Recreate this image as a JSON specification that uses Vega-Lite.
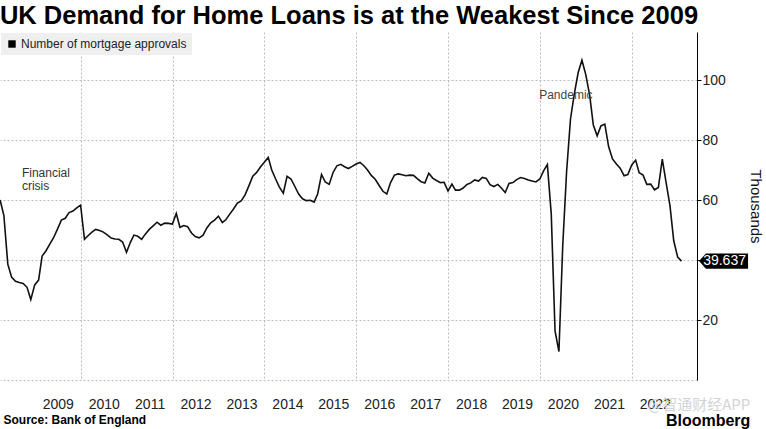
{
  "$schema": "https://vega.github.io/schema/vega-lite/v6.json",
  "background": "#ffffff",
  "padding": {"left": -4, "top": 3, "right": 0, "bottom": 0},
  "title": {
    "text": "UK Demand for Home Loans is at the Weakest Since 2009",
    "anchor": "start",
    "frame": "bounds",
    "font": "Liberation Sans",
    "fontSize": 25.5,
    "fontWeight": "bold",
    "color": "#000000",
    "offset": 3,
    "dx": 3
  },
  "datasets": {
    "approvals": [
      {"date": "2008-03-31", "value": 60.0},
      {"date": "2008-04-30", "value": 54.8},
      {"date": "2008-05-31", "value": 38.6},
      {"date": "2008-06-30", "value": 34.3},
      {"date": "2008-07-31", "value": 32.9},
      {"date": "2008-08-31", "value": 32.5},
      {"date": "2008-09-30", "value": 32.2},
      {"date": "2008-10-31", "value": 30.9},
      {"date": "2008-11-30", "value": 26.8},
      {"date": "2008-12-31", "value": 31.7},
      {"date": "2009-01-31", "value": 33.3},
      {"date": "2009-02-28", "value": 41.3},
      {"date": "2009-03-31", "value": 43.1},
      {"date": "2009-04-30", "value": 45.3},
      {"date": "2009-05-31", "value": 47.5},
      {"date": "2009-06-30", "value": 50.3},
      {"date": "2009-07-31", "value": 53.3},
      {"date": "2009-08-31", "value": 53.9},
      {"date": "2009-09-30", "value": 55.8},
      {"date": "2009-10-31", "value": 56.3},
      {"date": "2009-11-30", "value": 57.4},
      {"date": "2009-12-31", "value": 58.3},
      {"date": "2010-01-31", "value": 46.9},
      {"date": "2010-02-28", "value": 48.1},
      {"date": "2010-03-31", "value": 49.3},
      {"date": "2010-04-30", "value": 50.2},
      {"date": "2010-05-31", "value": 49.8},
      {"date": "2010-06-30", "value": 49.3},
      {"date": "2010-07-31", "value": 48.4},
      {"date": "2010-08-31", "value": 47.3},
      {"date": "2010-09-30", "value": 47.0},
      {"date": "2010-10-31", "value": 46.9},
      {"date": "2010-11-30", "value": 46.0},
      {"date": "2010-12-31", "value": 42.6},
      {"date": "2011-01-31", "value": 45.9},
      {"date": "2011-02-28", "value": 48.3},
      {"date": "2011-03-31", "value": 47.9},
      {"date": "2011-04-30", "value": 46.9},
      {"date": "2011-05-31", "value": 48.7},
      {"date": "2011-06-30", "value": 50.2},
      {"date": "2011-07-31", "value": 51.4},
      {"date": "2011-08-31", "value": 52.6},
      {"date": "2011-09-30", "value": 51.6},
      {"date": "2011-10-31", "value": 52.3},
      {"date": "2011-11-30", "value": 52.2},
      {"date": "2011-12-31", "value": 52.0},
      {"date": "2012-01-31", "value": 55.5},
      {"date": "2012-02-29", "value": 50.9},
      {"date": "2012-03-31", "value": 51.5},
      {"date": "2012-04-30", "value": 51.1},
      {"date": "2012-05-31", "value": 49.0},
      {"date": "2012-06-30", "value": 47.8},
      {"date": "2012-07-31", "value": 47.4},
      {"date": "2012-08-31", "value": 48.3},
      {"date": "2012-09-30", "value": 50.7},
      {"date": "2012-10-31", "value": 52.4},
      {"date": "2012-11-30", "value": 53.3},
      {"date": "2012-12-31", "value": 54.6},
      {"date": "2013-01-31", "value": 52.5},
      {"date": "2013-02-28", "value": 53.4},
      {"date": "2013-03-31", "value": 55.3},
      {"date": "2013-04-30", "value": 57.0},
      {"date": "2013-05-31", "value": 59.0},
      {"date": "2013-06-30", "value": 59.7},
      {"date": "2013-07-31", "value": 61.7},
      {"date": "2013-08-31", "value": 64.8},
      {"date": "2013-09-30", "value": 67.9},
      {"date": "2013-10-31", "value": 69.2},
      {"date": "2013-11-30", "value": 71.0},
      {"date": "2013-12-31", "value": 72.6},
      {"date": "2014-01-31", "value": 74.2},
      {"date": "2014-02-28", "value": 70.0},
      {"date": "2014-03-31", "value": 67.0},
      {"date": "2014-04-30", "value": 64.3},
      {"date": "2014-05-31", "value": 62.3},
      {"date": "2014-06-30", "value": 67.9},
      {"date": "2014-07-31", "value": 67.0},
      {"date": "2014-08-31", "value": 64.5},
      {"date": "2014-09-30", "value": 62.0},
      {"date": "2014-10-31", "value": 60.4},
      {"date": "2014-11-30", "value": 59.8},
      {"date": "2014-12-31", "value": 59.9},
      {"date": "2015-01-31", "value": 59.3},
      {"date": "2015-02-28", "value": 62.0},
      {"date": "2015-03-31", "value": 68.5},
      {"date": "2015-04-30", "value": 66.0},
      {"date": "2015-05-31", "value": 65.2},
      {"date": "2015-06-30", "value": 69.1},
      {"date": "2015-07-31", "value": 71.4},
      {"date": "2015-08-31", "value": 71.9},
      {"date": "2015-09-30", "value": 71.1},
      {"date": "2015-10-31", "value": 70.5},
      {"date": "2015-11-30", "value": 71.2},
      {"date": "2015-12-31", "value": 72.0},
      {"date": "2016-01-31", "value": 72.5},
      {"date": "2016-02-29", "value": 71.5},
      {"date": "2016-03-31", "value": 70.0},
      {"date": "2016-04-30", "value": 68.2},
      {"date": "2016-05-31", "value": 66.9},
      {"date": "2016-06-30", "value": 64.9},
      {"date": "2016-07-31", "value": 62.9},
      {"date": "2016-08-31", "value": 62.0},
      {"date": "2016-09-30", "value": 65.8},
      {"date": "2016-10-31", "value": 68.3},
      {"date": "2016-11-30", "value": 68.7},
      {"date": "2016-12-31", "value": 68.4},
      {"date": "2017-01-31", "value": 68.1},
      {"date": "2017-02-28", "value": 68.3},
      {"date": "2017-03-31", "value": 68.2},
      {"date": "2017-04-30", "value": 67.1},
      {"date": "2017-05-31", "value": 66.1},
      {"date": "2017-06-30", "value": 65.7},
      {"date": "2017-07-31", "value": 68.9},
      {"date": "2017-08-31", "value": 67.3},
      {"date": "2017-09-30", "value": 66.5},
      {"date": "2017-10-31", "value": 65.8},
      {"date": "2017-11-30", "value": 65.9},
      {"date": "2017-12-31", "value": 63.0},
      {"date": "2018-01-31", "value": 65.3},
      {"date": "2018-02-28", "value": 63.3},
      {"date": "2018-03-31", "value": 63.3},
      {"date": "2018-04-30", "value": 64.0},
      {"date": "2018-05-31", "value": 65.2},
      {"date": "2018-06-30", "value": 65.7},
      {"date": "2018-07-31", "value": 66.7},
      {"date": "2018-08-31", "value": 66.3},
      {"date": "2018-09-30", "value": 67.5},
      {"date": "2018-10-31", "value": 67.2},
      {"date": "2018-11-30", "value": 65.1},
      {"date": "2018-12-31", "value": 64.5},
      {"date": "2019-01-31", "value": 65.2},
      {"date": "2019-02-28", "value": 64.0},
      {"date": "2019-03-31", "value": 62.5},
      {"date": "2019-04-30", "value": 65.5},
      {"date": "2019-05-31", "value": 65.8},
      {"date": "2019-06-30", "value": 66.8},
      {"date": "2019-07-31", "value": 67.5},
      {"date": "2019-08-31", "value": 67.2},
      {"date": "2019-09-30", "value": 66.7},
      {"date": "2019-10-31", "value": 66.3},
      {"date": "2019-11-30", "value": 66.0},
      {"date": "2019-12-31", "value": 67.0},
      {"date": "2020-01-31", "value": 69.8},
      {"date": "2020-02-29", "value": 71.8},
      {"date": "2020-03-31", "value": 55.3},
      {"date": "2020-04-30", "value": 16.4},
      {"date": "2020-05-31", "value": 9.5},
      {"date": "2020-06-30", "value": 44.5},
      {"date": "2020-07-31", "value": 69.5},
      {"date": "2020-08-31", "value": 87.0},
      {"date": "2020-09-30", "value": 95.3},
      {"date": "2020-10-31", "value": 102.5},
      {"date": "2020-11-30", "value": 106.6},
      {"date": "2020-12-31", "value": 101.7},
      {"date": "2021-01-31", "value": 94.8},
      {"date": "2021-02-28", "value": 85.1},
      {"date": "2021-03-31", "value": 81.4},
      {"date": "2021-04-30", "value": 84.7},
      {"date": "2021-05-31", "value": 85.3},
      {"date": "2021-06-30", "value": 77.8},
      {"date": "2021-07-31", "value": 73.7},
      {"date": "2021-08-31", "value": 72.0},
      {"date": "2021-09-30", "value": 70.6},
      {"date": "2021-10-31", "value": 68.1},
      {"date": "2021-11-30", "value": 68.5},
      {"date": "2021-12-31", "value": 71.7},
      {"date": "2022-01-31", "value": 73.3},
      {"date": "2022-02-28", "value": 69.1},
      {"date": "2022-03-31", "value": 68.3},
      {"date": "2022-04-30", "value": 65.2},
      {"date": "2022-05-31", "value": 65.3},
      {"date": "2022-06-30", "value": 63.4},
      {"date": "2022-07-31", "value": 64.2},
      {"date": "2022-08-31", "value": 73.6},
      {"date": "2022-09-30", "value": 65.9},
      {"date": "2022-10-31", "value": 58.1},
      {"date": "2022-11-30", "value": 46.4},
      {"date": "2022-12-31", "value": 41.0},
      {"date": "2023-01-31", "value": 39.637}
    ],
    "latest": [
      {"date": "2023-01-31", "value": 39.637}
    ]
  },
  "vconcat": [
    {
      "width": 697,
      "height": 348,
      "title": {
        "text": "@智通财经APP",
        "subtitle": "Bloomberg",
        "orient": "bottom",
        "anchor": "end",
        "frame": "bounds",
        "font": "Noto Sans CJK SC",
        "fontSize": 15,
        "fontWeight": "normal",
        "color": "#d4d4d4",
        "subtitleFont": "Liberation Sans",
        "subtitleFontSize": 16,
        "subtitleFontWeight": "bold",
        "subtitleColor": "#000000",
        "subtitlePadding": 0,
        "offset": -27,
        "dx": -12
      },
      "layer": [
        {
          "data": {"name": "approvals"},
          "mark": {"type": "line", "strokeWidth": 1.6, "interpolate": "linear"},
          "encoding": {
            "x": {
              "field": "date",
              "type": "temporal",
              "scale": {
                "domain": [
                  {"year": 2008, "month": 3, "date": 30, "utc": true},
                  {"year": 2023, "month": 6, "date": 3, "utc": true}
                ]
              },
              "axis": {
                "values": [
                  {"year": 2009, "month": 1, "date": 1, "utc": true},
                  {"year": 2010, "month": 1, "date": 1, "utc": true},
                  {"year": 2011, "month": 1, "date": 1, "utc": true},
                  {"year": 2012, "month": 1, "date": 1, "utc": true},
                  {"year": 2013, "month": 1, "date": 1, "utc": true},
                  {"year": 2014, "month": 1, "date": 1, "utc": true},
                  {"year": 2015, "month": 1, "date": 1, "utc": true},
                  {"year": 2016, "month": 1, "date": 1, "utc": true},
                  {"year": 2017, "month": 1, "date": 1, "utc": true},
                  {"year": 2018, "month": 1, "date": 1, "utc": true},
                  {"year": 2019, "month": 1, "date": 1, "utc": true},
                  {"year": 2020, "month": 1, "date": 1, "utc": true},
                  {"year": 2021, "month": 1, "date": 1, "utc": true},
                  {"year": 2022, "month": 1, "date": 1, "utc": true}
                ],
                "labelExpr": "utcFormat(datum.value, '%Y')",
                "labelOffset": 23,
                "labelFlush": false,
                "labelOverlap": false,
                "labelFont": "Liberation Sans",
                "labelFontSize": 14,
                "labelColor": "#222222",
                "labelPadding": 17,
                "ticks": false,
                "domain": false,
                "grid": true,
                "gridColor": "#bdbdbd",
                "gridDash": [2, 2],
                "gridWidth": 1,
                "gridOpacity": {"condition": {"test": "utcyear(datum.value) % 2 === 0", "value": 1}, "value": 0},
                "title": "Source: Bank of England",
                "titleAnchor": "start",
                "titleAlign": "left",
                "titleX": 3,
                "titleFont": "Liberation Sans",
                "titleFontSize": 12,
                "titleFontWeight": "bold",
                "titleColor": "#000000",
                "titlePadding": 3
              }
            },
            "y": {
              "field": "value",
              "type": "quantitative",
              "scale": {"domain": [0, 116], "nice": false, "zero": true},
              "axis": {
                "orient": "right",
                "values": [0, 10, 20, 30, 40, 50, 60, 70, 80, 90, 100, 110],
                "labelExpr": "datum.value >= 20 && datum.value % 20 === 0 && datum.value !== 40 ? datum.label : ''",
                "labelFont": "Liberation Sans",
                "labelFontSize": 14,
                "labelColor": "#222222",
                "labelPadding": 1,
                "tickSize": 4,
                "tickColor": "#000000",
                "tickOpacity": {"condition": {"test": "datum.value === 0", "value": 0}, "value": 1},
                "domainColor": "#000000",
                "domainWidth": 1,
                "grid": true,
                "gridColor": "#bdbdbd",
                "gridDash": [2, 2],
                "gridWidth": 1,
                "gridOpacity": {"condition": {"test": "datum.value % 20 === 0", "value": 1}, "value": 0},
                "title": "Thousands",
                "titleFont": "Liberation Sans",
                "titleFontSize": 15,
                "titleFontWeight": "normal",
                "titleColor": "#111111",
                "titleAngle": 90,
                "titlePadding": 22
              }
            },
            "color": {
              "datum": "Number of mortgage approvals",
              "type": "nominal",
              "scale": {"range": ["#111111"]},
              "legend": {
                "title": null,
                "orient": "top-left",
                "offset": 1,
                "fillColor": "#efefef",
                "padding": 5,
                "symbolType": "square",
                "symbolSize": 55,
                "symbolFillColor": "#000000",
                "symbolStrokeColor": "#000000",
                "symbolStrokeWidth": 0,
                "labelFont": "Liberation Sans",
                "labelFontSize": 12,
                "labelColor": "#222222",
                "labelOffset": 3,
                "labelLimit": 400
              }
            }
          }
        },
        {
          "data": {"values": [{}]},
          "mark": {
            "type": "text",
            "align": "left",
            "baseline": "top",
            "font": "Liberation Sans",
            "fontSize": 12,
            "lineHeight": 13,
            "color": "#333333"
          },
          "encoding": {
            "x": {"datum": {"year": 2008, "month": 9, "date": 20, "utc": true}, "type": "temporal"},
            "y": {"datum": 70.8, "type": "quantitative"},
            "text": {"value": ["Financial", "crisis"]}
          }
        },
        {
          "data": {"values": [{}]},
          "mark": {
            "type": "text",
            "align": "left",
            "baseline": "middle",
            "font": "Liberation Sans",
            "fontSize": 12,
            "color": "#444444"
          },
          "encoding": {
            "x": {"datum": {"year": 2019, "month": 12, "date": 26, "utc": true}, "type": "temporal"},
            "y": {"datum": 95.1, "type": "quantitative"},
            "text": {"value": "Pandemic"}
          }
        },
        {
          "data": {"name": "latest"},
          "mark": {
            "type": "point",
            "shape": "M -1 0 L -0.72 -0.31 L 1 -0.31 L 1 0.31 L -0.72 0.31 Z",
            "size": 2401,
            "filled": true,
            "fill": "#000000",
            "opacity": 1,
            "strokeWidth": 0,
            "xOffset": 42
          },
          "encoding": {
            "x": {"field": "date", "type": "temporal"},
            "y": {"field": "value", "type": "quantitative"}
          }
        },
        {
          "data": {"name": "latest"},
          "mark": {
            "type": "text",
            "align": "center",
            "baseline": "middle",
            "font": "Liberation Sans",
            "fontSize": 14,
            "color": "#ffffff",
            "xOffset": 43
          },
          "encoding": {
            "x": {"field": "date", "type": "temporal"},
            "y": {"field": "value", "type": "quantitative"},
            "text": {"field": "value", "type": "quantitative", "format": ".3f"}
          }
        }
      ]
    }
  ],
  "config": {
    "view": {"stroke": null},
    "font": "Liberation Sans"
  }
}
